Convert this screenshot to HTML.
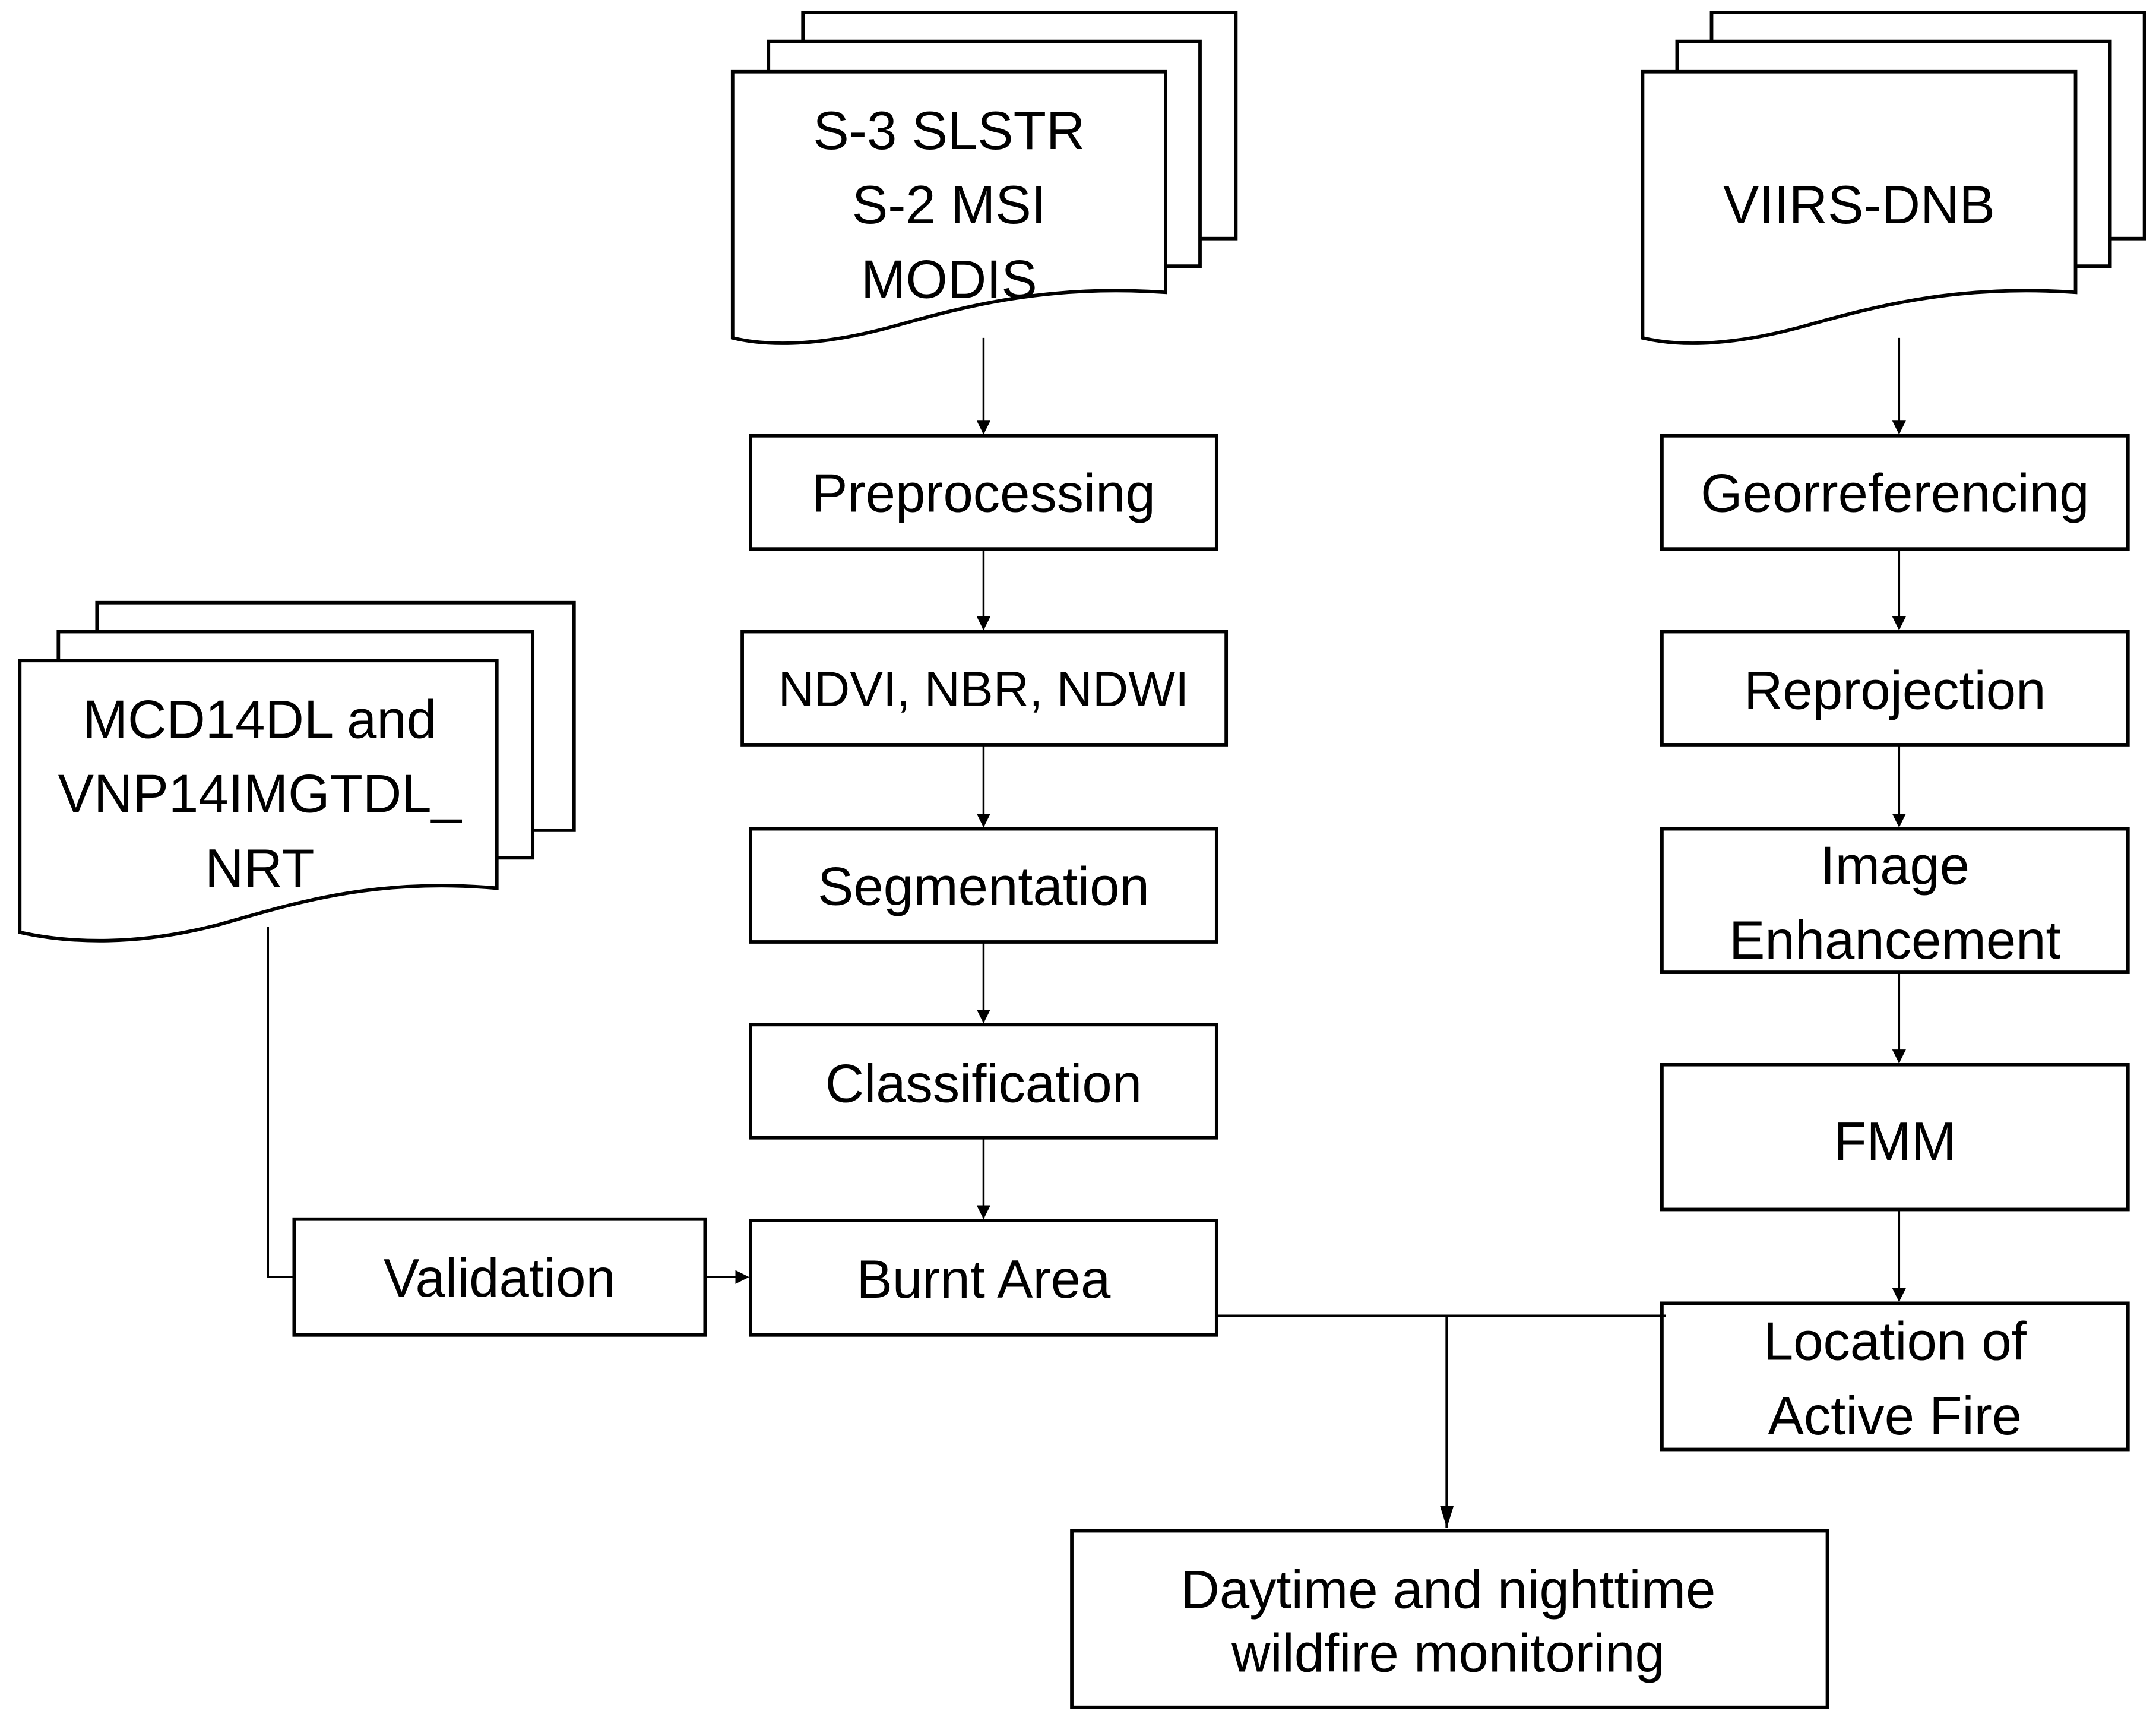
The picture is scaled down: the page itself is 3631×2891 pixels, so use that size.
<!DOCTYPE html>
<html><head><meta charset="utf-8"><style>html,body{margin:0;padding:0;background:#fff}svg{display:block}</style></head><body>
<svg width="3631" height="2891" viewBox="0 0 1563 1245" xmlns="http://www.w3.org/2000/svg" font-family="Liberation Sans, sans-serif" font-size="39" text-anchor="middle">
<defs><marker id="a" markerWidth="10" markerHeight="10" refX="9" refY="5" orient="auto" markerUnits="userSpaceOnUse"><path d="M0,0 L10,5 L0,10 Z" fill="#000"/></marker>
<marker id="b" markerWidth="16" markerHeight="26" refX="26" refY="8" orient="auto" markerUnits="userSpaceOnUse" viewBox="0 0 26 16"><path d="M0,0 L26,8 L0,16 Z" fill="#000"/></marker></defs>
<g fill="#fff" stroke="#000" stroke-width="2.5">
<rect x="582" y="9" width="314" height="164"/>
<rect x="557" y="30" width="313" height="163"/>
<path d="M531,52 H845 V212 C760,206 700,222 650,236 C600,250 560,252 531,245 Z"/>
<rect x="1241" y="9" width="314" height="164"/>
<rect x="1216" y="30" width="314" height="163"/>
<path d="M1191,52 H1505 V212 C1420,206 1360,222 1310,236 C1260,250 1220,252 1191,245 Z"/>
<rect x="70" y="437" width="346" height="165"/>
<rect x="42" y="458" width="344" height="164"/>
<path d="M14,479 H360 V644 C270,636 210,656 160,670 C100,686 50,684 14,676 Z"/>
<rect x="544" y="316" width="338" height="82"/>
<rect x="538" y="458" width="351" height="82"/>
<rect x="544" y="601" width="338" height="82"/>
<rect x="544" y="743" width="338" height="82"/>
<rect x="544" y="885" width="338" height="83"/>
<rect x="213" y="884" width="298" height="84"/>
<rect x="1205" y="316" width="338" height="82"/>
<rect x="1205" y="458" width="338" height="82"/>
<rect x="1205" y="601" width="338" height="104"/>
<rect x="1205" y="772" width="338" height="105"/>
<rect x="1205" y="945" width="338" height="106"/>
<rect x="777" y="1110" width="548" height="128"/>
</g>
<g stroke="#000" stroke-width="1.5" fill="none">
<line x1="713" y1="245" x2="713" y2="314" marker-end="url(#a)"/>
<line x1="713" y1="398" x2="713" y2="456" marker-end="url(#a)"/>
<line x1="713" y1="540" x2="713" y2="599" marker-end="url(#a)"/>
<line x1="713" y1="683" x2="713" y2="741" marker-end="url(#a)"/>
<line x1="713" y1="825" x2="713" y2="883" marker-end="url(#a)"/>
<line x1="1377" y1="245" x2="1377" y2="314" marker-end="url(#a)"/>
<line x1="1377" y1="398" x2="1377" y2="456" marker-end="url(#a)"/>
<line x1="1377" y1="540" x2="1377" y2="599" marker-end="url(#a)"/>
<line x1="1377" y1="705" x2="1377" y2="770" marker-end="url(#a)"/>
<line x1="1377" y1="877" x2="1377" y2="943" marker-end="url(#a)"/>
<polyline points="194,672 194,926 213,926"/>
<line x1="511" y1="926" x2="542" y2="926" marker-end="url(#a)"/>
<line x1="882" y1="954" x2="1208" y2="954"/>
<line x1="1049" y1="954" x2="1049" y2="1108" stroke-width="2" marker-end="url(#b)"/>
</g>
<g fill="#000">
<text x="688" y="108">S-3 SLSTR</text>
<text x="688" y="162">S-2 MSI</text>
<text x="688" y="216">MODIS</text>
<text x="1348" y="162">VIIRS-DNB</text>
<text x="188" y="535">MCD14DL and</text>
<text x="188" y="589">VNP14IMGTDL_</text>
<text x="188" y="643">NRT</text>
<text x="713" y="371">Preprocessing</text>
<text x="713" y="512" font-size="36">NDVI, NBR, NDWI</text>
<text x="713" y="656">Segmentation</text>
<text x="713" y="799">Classification</text>
<text x="713" y="941">Burnt Area</text>
<text x="362" y="940">Validation</text>
<text x="1374" y="371">Georreferencing</text>
<text x="1374" y="514">Reprojection</text>
<text x="1374" y="641">Image</text>
<text x="1374" y="695">Enhancement</text>
<text x="1374" y="841">FMM</text>
<text x="1374" y="986">Location of</text>
<text x="1374" y="1040">Active Fire</text>
<text x="1050" y="1166">Daytime and nighttime</text>
<text x="1050" y="1212">wildfire monitoring</text>
</g>
</svg>
</body></html>
